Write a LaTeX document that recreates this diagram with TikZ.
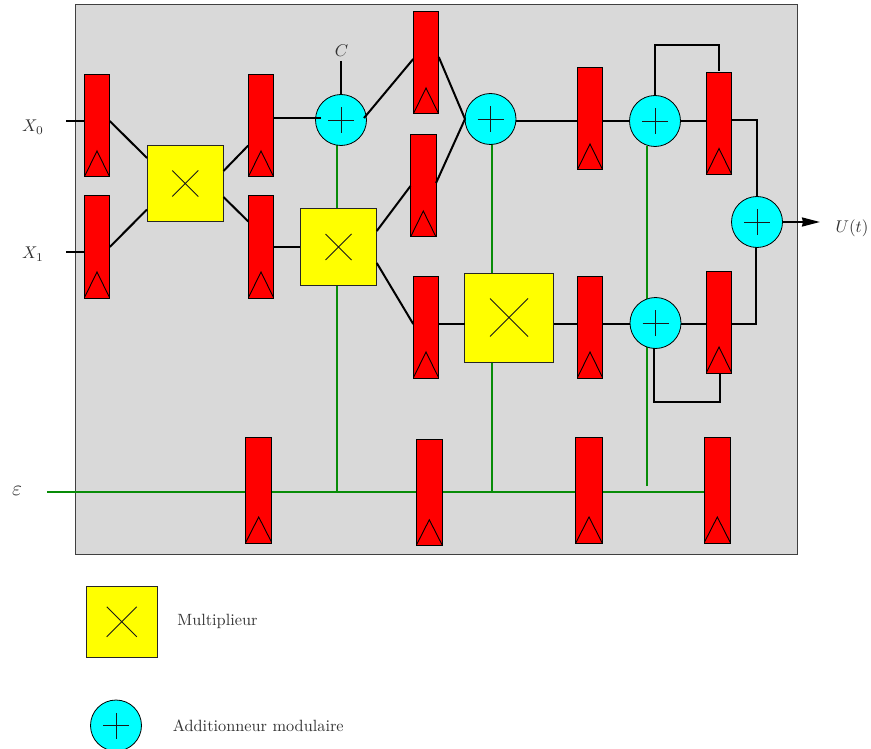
\documentclass[tikz,border=0pt]{standalone}
\usetikzlibrary{arrows.meta}
\pgfdeclarelayer{back}
\pgfsetlayers{back,main}
\definecolor{wiregreen}{RGB}{8,140,8}
\definecolor{panel}{RGB}{217,217,217}
\definecolor{addercyan}{RGB}{0,255,255}
\definecolor{mulyellow}{RGB}{255,255,0}
\definecolor{regred}{RGB}{255,0,0}
\tikzset{
  regbox/.style={rectangle,draw=black,line width=1pt,fill=regred,inner sep=0pt,outer sep=0pt,
    minimum width=#1,minimum height=102pt,
    path picture={\draw[line width=0.9pt,black]
      (path picture bounding box.south west) -- ([yshift=26pt]path picture bounding box.south) -- (path picture bounding box.south east);}},
  regbox/.default=25.5pt,
  tallreg/.style={regbox=26.5pt,minimum height=106pt},
  mulbox/.style n args={2}{rectangle,draw=black!85,line width=1pt,fill=mulyellow,inner sep=0pt,outer sep=0pt,minimum size=#1,
    path picture={\draw[line width=0.8pt,black!90]
      ([shift={(-#2,#2)}]path picture bounding box.center) -- ([shift={(#2,-#2)}]path picture bounding box.center)
      ([shift={(-#2,-#2)}]path picture bounding box.center) -- ([shift={(#2,#2)}]path picture bounding box.center);}},
  adder/.style={circle,draw=black,line width=0.8pt,fill=addercyan,inner sep=0pt,outer sep=0pt,minimum size=51pt,
    path picture={\draw[line width=0.9pt,black!90]
      ([xshift=-13pt]path picture bounding box.center) -- ([xshift=13pt]path picture bounding box.center)
      ([yshift=-13pt]path picture bounding box.center) -- ([yshift=13pt]path picture bounding box.center);}},
  wire/.style={line width=2pt,black,line join=miter},
  gwire/.style={line width=2pt,wiregreen},
  mlabel/.style={text=black!80,scale=1.7,inner sep=0pt},
  tlabel/.style={text=black!80,scale=1.63,inner sep=0pt,anchor=west},
}
\begin{document}
\begin{tikzpicture}[x=1pt,y=-1pt]
\useasboundingbox (0,0) rectangle (871,749);
\begin{pgfonlayer}{back}
  \node[rectangle,draw=black!75,line width=1pt,fill=panel,inner sep=0pt,minimum width=721.5pt,minimum height=549pt] (panel) at (436.25,279.5) {};
\end{pgfonlayer}
% registers
\node[regbox] (r1) at (97,126) {};
\node[regbox] (r2) at (97,247) {};
\node[regbox] (r3) at (261,126) {};
\node[regbox] (r4) at (261,247) {};
\node[regbox] (r5) at (426,63) {};
\node[regbox] (r6) at (423.3,186) {};
\node[regbox] (r7) at (426,327) {};
\node[regbox] (r8) at (590,119) {};
\node[regbox] (r9) at (590,327) {};
\node[regbox] (r10) at (719,123.5) {};
\node[regbox] (r11) at (719,322) {};
\node[tallreg] (r12) at (258.7,490) {};
\node[tallreg] (r13) at (429.3,492.75) {};
\node[tallreg] (r14) at (589,490) {};
\node[tallreg] (r15) at (717.3,490) {};
% multipliers
\node[mulbox={76.5pt}{13pt}] (m1) at (185.25,183.5) {};
\node[mulbox={76.5pt}{13pt}] (m2) at (338.5,247) {};
\node[mulbox={89pt}{19pt}] (m3) at (509,317.5) {};
\node[mulbox={70.5pt}{15pt}] (m4) at (121.75,621.75) {};
% adders
\node[adder] (a1) at (341,120) {};
\node[adder] (a2) at (490.5,119) {};
\node[adder] (a3) at (655,121) {};
\node[adder] (a4) at (655.5,323) {};
\node[adder] (a5) at (757,222) {};
\node[adder] (a6) at (116,725.5) {};
% labels
\node[mlabel] (lx0) at (33,127) {$X_0$};
\node[mlabel] (lx1) at (33,254) {$X_1$};
\node[mlabel] (lc) at (341.5,50.5) {$C$};
\node[mlabel] (lu) at (852,228) {$U(t)$};
\node[mlabel,scale=1.25] (le) at (17,491) {$\varepsilon$};
\node[tlabel] (lm) at (177,621.5) {Multiplieur};
\node[tlabel] (la) at (172.5,726) {Additionneur modulaire};
% free ends
\coordinate (x0) at (66,121);
\coordinate (x1) at (66,252);
\coordinate (cin) at (341,61);
\coordinate (out) at (820,222);
\coordinate (eps) at (47,491.5);
\coordinate (j1) at (337,491.5);
\coordinate (j2) at (492,491.5);
\coordinate (j3) at (647,486);
\coordinate (t3) at (655,45);
\coordinate (t10) at (719,45);
\coordinate (b4) at (654,402);
\coordinate (b11) at (719.5,402);
% black wires
\draw[wire] (x0) -- ([xshift=1pt,yshift=5pt]r1.west);
\draw[wire] (x1) -- ([xshift=1pt,yshift=-5pt]r2.west);
\draw[wire] ([yshift=5pt]r1.east) -- ([yshift=25.5pt]m1.west);
\draw[wire] (r2.east) -- ([yshift=-26pt]m1.west);
\draw[wire] ([yshift=12.5pt]m1.east) -- ([yshift=-19.5pt]r3.west);
\draw[wire] ([yshift=-13.5pt]m1.east) -- ([yshift=25.5pt]r4.west);
\draw[wire] ([yshift=7.5pt]r3.east) -- ([xshift=5pt,yshift=1.5pt]a1.west);
\draw[wire] (r4.east) -- (m2.west);
\draw[wire] (cin) -- (a1.north);
\draw[wire] ([xshift=-2.5pt,yshift=2pt]a1.east) -- ([yshift=4pt]r5.west);
\draw[wire] ([yshift=16pt]m2.east) -- (r6.west);
\draw[wire] ([yshift=-16pt]m2.east) -- ([yshift=3pt]r7.west);
\draw[wire] ([yshift=6pt]r5.east) -- (a2.west);
\draw[wire] ([yshift=3pt]r6.east) -- (a2.west);
\draw[wire] ([yshift=-2pt]a2.east) -- ([yshift=-2pt]r8.west);
\draw[wire] ([yshift=-2pt]r8.east) -- (a3.west);
\draw[wire] (a3.east) -- ([yshift=2.5pt]r10.west);
\draw[wire] (a3.north) -- (t3) -- (t10) -- ([yshift=1.5pt]r10.north);
\draw[wire] ([yshift=3pt]r10.east) -| (a5.north);
\draw[wire,-{Stealth[length=18pt,width=9pt,inset=1pt]}] (a5.east) -- (out);
\draw[wire] ([yshift=3pt]r7.east) -- ([yshift=-6.5pt]m3.west);
\draw[wire] ([yshift=-6.5pt]m3.east) -- ([yshift=3pt]r9.west);
\draw[wire] ([yshift=3pt]r9.east) -- ([yshift=-1pt]a4.west);
\draw[wire] ([yshift=-1pt]a4.east) -- ([yshift=-2pt]r11.west);
\draw[wire] ([yshift=-2pt]r11.east) -- (756,324) -- ([xshift=-1pt]a5.south);
\draw[wire] ([xshift=-1.5pt,yshift=.3pt]a4.south) -- (b4) -- (b11) -- ([xshift=.5pt]r11.south);
% green wires, behind the boxes
\begin{pgfonlayer}{back}
  \draw[gwire] (eps) -- (r15.west |- eps);
  \draw[gwire] (j1) -- (j1 |- a1.south);
  \draw[gwire] (j2) -- (j2 |- a2.south);
  \draw[gwire] (j3) -- (j3 |- a3.south);
\end{pgfonlayer}
\end{tikzpicture}
\end{document}
